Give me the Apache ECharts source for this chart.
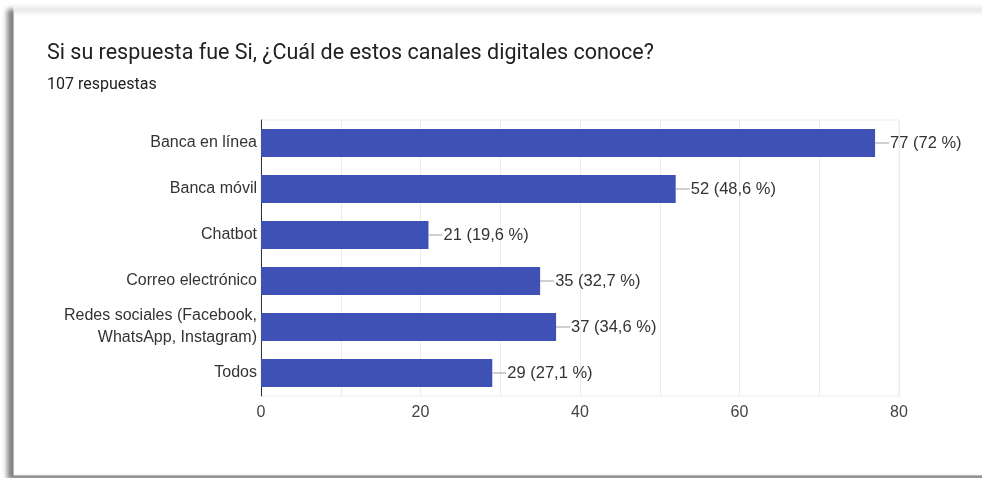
<!DOCTYPE html>
<html>
<head>
<meta charset="utf-8">
<script src="https://cdn.jsdelivr.net/npm/echarts@6/dist/echarts.min.js"></script>
<style>
  html, body { margin: 0; padding: 0; background: #ffffff; }
  #chart { width: 982px; height: 478px; }
</style>
</head>
<body>
<div id="chart"></div>
<script>
// Survey answers: digital channels known by respondents
const titleText = 'Si su respuesta fue Si, ¿Cuál de estos canales digitales conoce?';
const subtitleText = '107 respuestas';
const categories = [
  'Banca en línea',
  'Banca móvil',
  'Chatbot',
  'Correo electrónico',
  'Redes sociales (Facebook,\nWhatsApp, Instagram)',
  'Todos'
];
const counts = [77, 52, 21, 35, 37, 29];
const percents = ['72', '48,6', '19,6', '32,7', '34,6', '27,1'];
const xTicks = [0, 20, 40, 60, 80];

const chart = echarts.init(document.getElementById('chart'), null, { renderer: 'canvas' });

chart.setOption({
  animation: false,
  backgroundColor: '#ffffff',
  graphic: [
    {
      type: 'rect',
      z: -10,
      silent: true,
      shape: { x: 14, y: 6, width: 1000, height: 469 },
      style: {
        fill: '#ffffff',
        stroke: '#f4f4f4',
        lineWidth: 1,
        shadowBlur: 5,
        shadowOffsetX: -6,
        shadowOffsetY: 4,
        shadowColor: 'rgba(0,0,0,0.5)'
      }
    }
  ],
  title: [
    {
      text: titleText,
      left: 42,
      top: 36,
      textStyle: { fontFamily: 'Roboto', fontWeight: 'normal', fontSize: 21.5, lineHeight: 26, color: '#202124' }
    },
    {
      text: subtitleText,
      left: 42,
      top: 70,
      textStyle: { fontFamily: 'Roboto', fontWeight: 'normal', fontSize: 16, lineHeight: 20, color: '#202124' }
    }
  ],
  grid: {
    left: 261,
    right: 83,
    top: 120,
    bottom: 82,
    show: true,
    borderColor: '#ebebeb',
    borderWidth: 1,
    containLabel: false
  },
  xAxis: {
    type: 'value',
    min: 0,
    max: 80,
    interval: 10,
    axisLine: { show: false },
    axisTick: { show: false },
    splitLine: { show: true, lineStyle: { color: '#ebebeb', width: 1 } },
    axisLabel: {
      margin: 9,
      fontFamily: 'Liberation Sans',
      fontSize: 16,
      color: '#444444',
      formatter: v => (xTicks.indexOf(v) >= 0 ? String(v) : '')
    }
  },
  yAxis: {
    type: 'category',
    data: categories,
    inverse: true,
    axisLine: { show: true, lineStyle: { color: '#333333', width: 1 } },
    axisTick: { show: false },
    splitLine: { show: false },
    axisLabel: {
      margin: 4,
      fontFamily: 'Liberation Sans',
      fontSize: 16,
      lineHeight: 22,
      color: '#333333',
      align: 'right'
    }
  },
  series: [
    {
      type: 'bar',
      data: counts,
      barWidth: 28,
      itemStyle: { color: '#3f51b5' },
      label: {
        show: true,
        position: 'right',
        distance: 0,
        formatter: p => '{l|}{t|' + counts[p.dataIndex] + ' (' + percents[p.dataIndex] + ' %)}',
        rich: {
          l: { width: 14, height: 1, backgroundColor: '#9e9e9e', verticalAlign: 'middle' },
          t: { fontFamily: 'Liberation Sans', fontSize: 16.5, color: '#333333', verticalAlign: 'middle', padding: [0, 0, 0, 1] }
        }
      }
    }
  ]
});
</script>
</body>
</html>
